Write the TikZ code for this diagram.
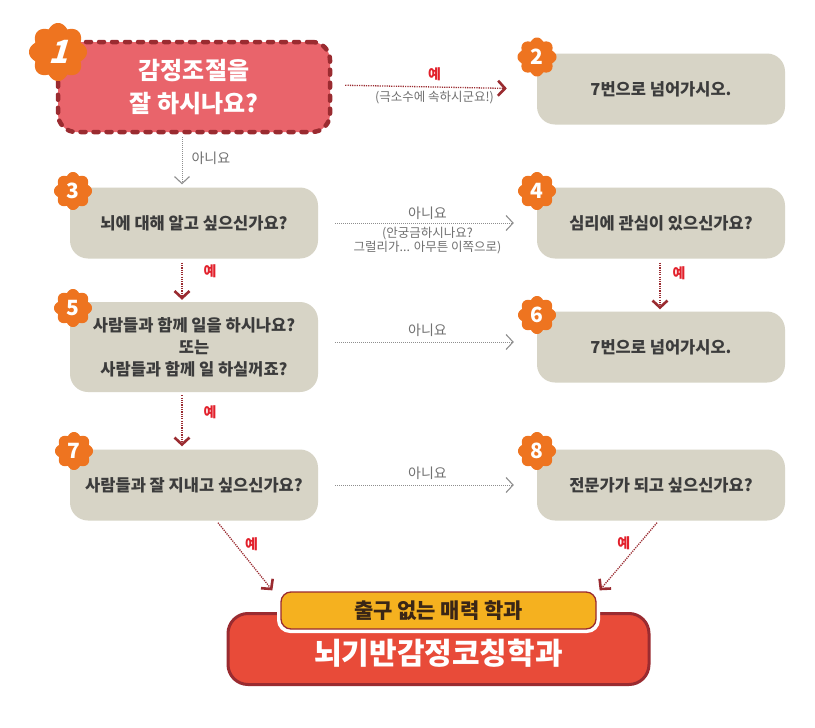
\documentclass[tikz,border=0pt]{standalone}
\usepackage{fontspec}
\setmainfont{Noto Sans CJK KR}
\newfontfamily\slantkr[FakeSlant=0.3]{Noto Sans CJK KR}
\usepackage{tikz}
\usetikzlibrary{arrows.meta,calc}
\definecolor{boxgray}{HTML}{D7D4C6}
\definecolor{txtdark}{HTML}{3C3C3C}
\definecolor{pinkred}{HTML}{E9646B}
\definecolor{darkred}{HTML}{9A2B30}
\definecolor{labelred}{HTML}{E2202B}
\definecolor{arrowgray}{HTML}{8E8E8E}
\definecolor{labelgray}{HTML}{707070}
\definecolor{badgeorange}{HTML}{EE7420}
\definecolor{goldfill}{HTML}{F5B11F}
\definecolor{brightred}{HTML}{E84B39}
\definecolor{goldtext}{HTML}{3A2616}
\newcommand{\badge}[4]{%
  \begin{scope}[shift={#1}]
    \fill[badgeorange] plot[domain=0:360,samples=160,smooth] (\x:{#2*(0.84+0.16*abs(cos(4*\x)))}) -- cycle;
    \node[badgenum] (num#3) at (0,0) {#4};
  \end{scope}%
}

\begin{document}
\begin{tikzpicture}[x=1pt,y=-1pt,
  qbox/.style={fill=boxgray,rounded corners=18pt,minimum width=248pt,minimum height=71pt,
    align=center,text=txtdark,font=\fontsize{16.5}{22}\selectfont\bfseries},
  badgenum/.style={text=white,font=\fontsize{21}{21}\selectfont\bfseries,inner sep=0pt},
  yesarrow/.style={darkred,line width=1.3pt,dash pattern=on 1.2pt off 1.1pt,
    -{Straight Barb[length=7pt,width=15pt,line width=2.6pt]}},
  noarrow/.style={arrowgray,line width=1pt,dash pattern=on 1pt off 1pt,
    -{Straight Barb[length=7pt,width=15pt,line width=1.1pt]}},
  yeslabel/.style={text=labelred,font=\fontsize{14}{14}\selectfont\bfseries,inner sep=1pt},
  nolabel/.style={text=labelgray,font=\fontsize{14}{14}\selectfont,inner sep=1pt},
  sublabel/.style={text=labelgray,font=\fontsize{12.5}{14}\selectfont,align=center,inner sep=1pt}]
  \useasboundingbox (0,0) rectangle (815,728);
  \fill[white] (0,0) rectangle (815,728);

  \node[fill=pinkred,draw=darkred,line width=4.5pt,dash pattern=on 5pt off 8pt,line cap=round,
    rounded corners=18pt,minimum width=272pt,minimum height=90pt,align=center,text=white,
    font=\fontsize{24}{33}\selectfont\bfseries] (b1) at (194,87) {감정조절을\\잘 하시나요?};
  \node[qbox] (b2) at (661,89) {7번으로 넘어가시오.};
  \node[qbox] (b3) at (194,223) {뇌에 대해 알고 싶으신가요?};
  \node[qbox] (b4) at (661,223) {심리에 관심이 있으신가요?};
  \node[qbox,minimum height=90pt] (b5) at (194,347) {사람들과 함께 일을 하시나요?\\또는\\사람들과 함께 일 하실꺼죠?};
  \node[qbox] (b6) at (661,347) {7번으로 넘어가시오.};
  \node[qbox] (b7) at (194,485) {사람들과 잘 지내고 싶으신가요?};
  \node[qbox] (b8) at (661,485) {전문가가 되고 싶으신가요?};

  \badge{(58,52)}{29}{1}{\slantkr\fontsize{32}{32}\selectfont\bfseries 1}
  \badge{(537,57)}{19.5}{2}{2}
  \badge{(73,191)}{19}{3}{3}
  \badge{(537,191)}{19}{4}{4}
  \badge{(73,308)}{19}{5}{5}
  \badge{(537,315)}{19}{6}{6}
  \badge{(74,451)}{19}{7}{7}
  \badge{(537,451)}{19}{8}{8}

  \node[fill=brightred,draw=darkred,line width=3pt,rounded corners=20pt,minimum width=421pt,
    minimum height=71pt,text=white,font=\fontsize{30}{30}\selectfont\bfseries,text depth=0pt] (major) at (438.5,649) {\raisebox{-6pt}{뇌기반감정코칭학과}};
  \node[fill=goldfill,draw=white,line width=4pt,rounded corners=11pt,minimum width=319pt,
    minimum height=41pt] (goldback) at (438.5,610.5) {};
  \node[fill=goldfill,draw=darkred,line width=1.3pt,rounded corners=10pt,minimum width=315pt,
    minimum height=37pt,text=goldtext,font=\fontsize{21}{21}\selectfont\bfseries] (gold) at (438.5,610.5) {출구 없는 매력 학과};

  \draw[yesarrow,shorten <=13pt,shorten >=30pt] ([yshift=2pt]b1.east) -- (b2.west)
    node[yeslabel,pos=0.5,above=5pt] (l12) {예}
    node[sublabel,pos=0.5,below=3pt] (s12) {(극소수에 속하시군요!)};
  \draw[noarrow,shorten <=3pt,shorten >=3pt] ([xshift=-12pt]b1.south) -- ([xshift=-12pt]b3.north)
    node[nolabel,pos=0.45,right=8pt] (l13) {아니요};
  \draw[noarrow,shorten <=17pt,shorten >=23pt] (b3.east) -- (b4.west)
    node[nolabel,pos=0.5,above=2pt] (l34) {아니요}
    node[sublabel,pos=0.5,below=3pt] (s34) {(안궁금하시나요?\\그럴리가... 아무튼 이쪽으로)};
  \draw[yesarrow,shorten <=4pt,shorten >=2pt] ([xshift=-12pt]b3.south) -- ([xshift=-12pt]b5.north)
    node[yeslabel,pos=0.3,right=20pt] (l35) {예};
  \draw[yesarrow,shorten <=4pt,shorten >=2pt] ([xshift=-1pt]b4.south) -- ([xshift=-1pt]b6.north)
    node[yeslabel,pos=0.28,right=11pt] (l46) {예};
  \draw[noarrow,shorten <=17pt,shorten >=23pt] ([yshift=5pt]b5.east) -- ([yshift=5pt]b6.west)
    node[nolabel,pos=0.5,above=4pt] (l56) {아니요};
  \draw[yesarrow,shorten <=3pt,shorten >=3pt] ([xshift=-12pt]b5.south) -- ([xshift=-12pt]b7.north)
    node[yeslabel,pos=0.35,right=20pt] (l57) {예};
  \draw[noarrow,shorten <=17pt,shorten >=23pt] (b7.east) -- (b8.west)
    node[nolabel,pos=0.5,above=4pt] (l78) {아니요};
  \draw[yesarrow] ($(b7.south)+(24,2)$) -- ($(gold.north west)+(-8,-1)$)
    node[yeslabel,pos=0.32,right=8pt] (l7m) {예};
  \draw[yesarrow] ($(b8.south)+(-4,2)$) -- ($(gold.north east)+(3,-1)$)
    node[yeslabel,pos=0.3,left=8pt] (l8m) {예};
\end{tikzpicture}
\end{document}
